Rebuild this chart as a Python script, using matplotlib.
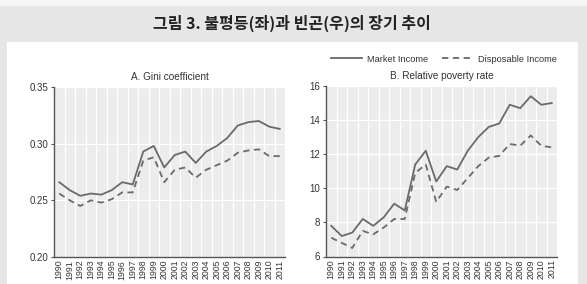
import matplotlib
matplotlib.use("Agg")
import matplotlib.pyplot as plt
from matplotlib.patches import Rectangle
from matplotlib.ticker import FixedLocator
import matplotlib.font_manager as fm

names = {f.name for f in fm.fontManager.ttflist}
narrow = 'Liberation Sans Narrow' if 'Liberation Sans Narrow' in names else 'Liberation Sans'
plt.rcParams['font.family'] = [narrow, 'DejaVu Sans']

years = [str(y) for y in range(1990, 2012)]
gini_market = [0.266, 0.259, 0.254, 0.256, 0.255, 0.259, 0.266, 0.264, 0.293, 0.298, 0.279,
               0.290, 0.293, 0.283, 0.293, 0.298, 0.305, 0.316, 0.319, 0.320, 0.315, 0.313]
gini_disp = [0.256, 0.250, 0.245, 0.250, 0.248, 0.251, 0.257, 0.257, 0.285, 0.288, 0.266,
             0.277, 0.279, 0.270, 0.277, 0.281, 0.285, 0.292, 0.294, 0.295, 0.289, 0.289]
pov_market = [7.8, 7.2, 7.4, 8.2, 7.8, 8.3, 9.1, 8.7, 11.4, 12.2, 10.4,
              11.3, 11.1, 12.2, 13.0, 13.6, 13.8, 14.9, 14.7, 15.4, 14.9, 15.0]
pov_disp = [7.1, 6.8, 6.5, 7.5, 7.3, 7.7, 8.2, 8.2, 10.9, 11.4, 9.2,
            10.1, 9.9, 10.6, 11.3, 11.8, 11.9, 12.6, 12.5, 13.1, 12.5, 12.4]
series_labels = ['Market Income', 'Disposable Income']
title_main = '그림 3. 불평등(좌)과 빈곤(우)의 장기 추이'
titles = ['A. Gini coefficient', 'B. Relative poverty rate']
gini_ticks = [0.20, 0.25, 0.30, 0.35]
gini_ticklabels = ['0.20', '0.25', '0.30', '0.35']
pov_ticks = [6, 8, 10, 12, 14, 16]

W, H = 587, 284
fig = plt.figure(figsize=(W / 100, H / 100), dpi=100)
fig.patch.set_facecolor('#e6e6e6')

def px(x0, y0, w, h):
    return [x0 / W, 1 - (y0 + h) / H, w / W, h / H]

fig.patches.append(Rectangle((0, 1 - 6 / H), 1, 6 / H, transform=fig.transFigure,
                             facecolor='#f5f5f5', edgecolor='none', zorder=-5))
fig.patches.append(Rectangle((7 / W, 0), 571 / W, 1 - 42 / H, transform=fig.transFigure,
                             facecolor='white', edgecolor='none', zorder=-5))

fig.text(292 / W, 1 - 23 / H, title_main, ha='center', va='center', fontsize=11.5,
         fontweight='bold', family=['Noto Sans CJK KR', 'DejaVu Sans'], color='#222222')

line_color = '#6a6a6a'
x = list(range(len(years)))

def setup(ax, title):
    ax.set_facecolor('#ececec')
    ax.set_xlim(-0.5, len(years) - 0.5)
    ax.set_xticks(x)
    ax.set_xticklabels(years, rotation=90, fontsize=6.3, color='#333333')
    ax.xaxis.set_minor_locator(FixedLocator([i + 0.5 for i in range(len(years) - 1)]))
    ax.grid(which='minor', axis='x', color='white', linewidth=0.9)
    ax.grid(which='major', axis='y', color='white', linewidth=0.9)
    ax.set_axisbelow(True)
    for s in ['top', 'right']:
        ax.spines[s].set_visible(False)
    for s in ['left', 'bottom']:
        ax.spines[s].set_color('#555555')
        ax.spines[s].set_linewidth(1.0)
    ax.tick_params(axis='x', which='both', length=0, pad=2)
    ax.tick_params(axis='y', length=2.5, width=0.8, color='#555555', labelsize=7,
                   labelcolor='#333333', pad=1.5)
    ax.set_title(title, fontsize=7.2, color='#333333', pad=5)

ax1 = fig.add_axes(px(54, 87, 231, 170))
setup(ax1, titles[0])
ax1.plot(x, gini_market, color=line_color, lw=1.3, label=series_labels[0])
ax1.plot(x, gini_disp, color=line_color, lw=1.3, ls=(0, (3.5, 2.5)), label=series_labels[1])
ax1.set_ylim(0.20, 0.35)
ax1.set_yticks(gini_ticks)
ax1.set_yticklabels(gini_ticklabels)

ax2 = fig.add_axes(px(326, 86, 231, 170.5))
setup(ax2, titles[1])
ax2.plot(x, pov_market, color=line_color, lw=1.3, label=series_labels[0])
ax2.plot(x, pov_disp, color=line_color, lw=1.3, ls=(0, (3.5, 2.5)), label=series_labels[1])
ax2.set_ylim(6, 16)
ax2.set_yticks(pov_ticks)

h, l = ax2.get_legend_handles_labels()
fig.legend(h, l, loc='center', bbox_to_anchor=(444 / W, 1 - 59 / H), ncol=2, frameon=False,
           fontsize=6.7, handlelength=3.3, columnspacing=1.4, handletextpad=0.6,
           labelcolor='#333333')

fig.savefig('out.png', dpi=100, facecolor=fig.get_facecolor())
